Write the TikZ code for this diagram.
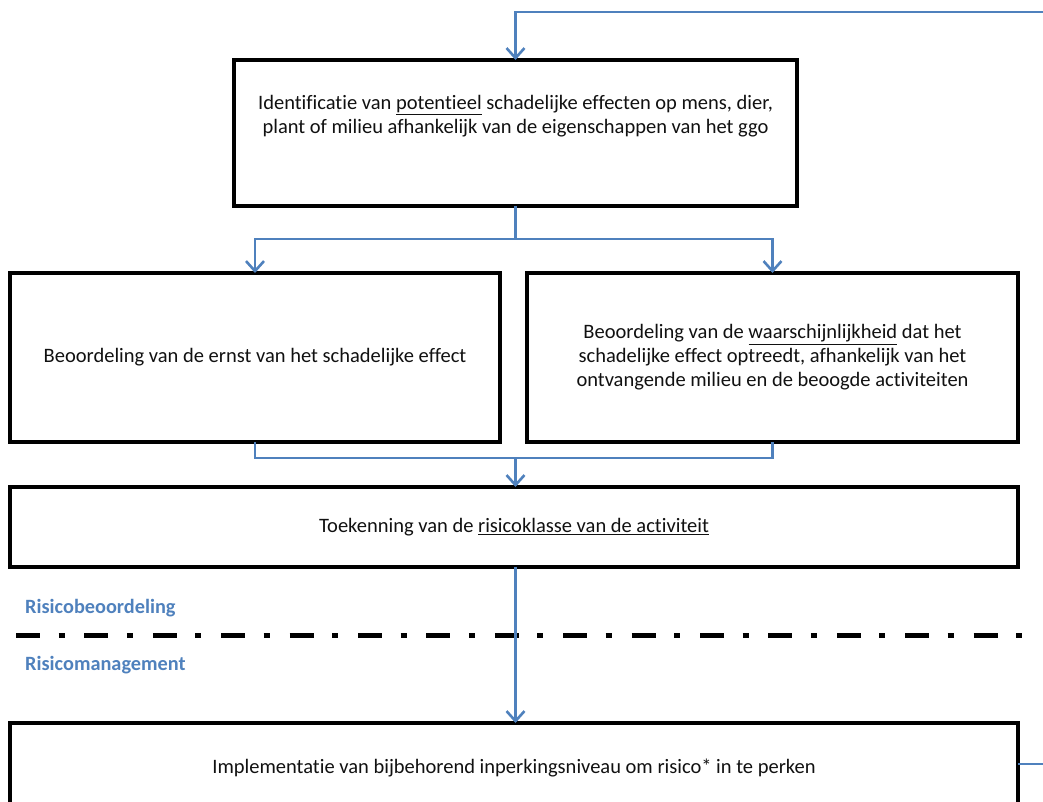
\documentclass[tikz,border=0pt]{standalone}
\usepackage{fontspec}
\setmainfont{Carlito}[Ligatures=NoCommon]
\usetikzlibrary{arrows.meta}
\definecolor{ablue}{HTML}{4F81BD}
\definecolor{ink}{HTML}{111111}
\begin{document}
\begin{tikzpicture}[x=1pt,y=-1pt,
  box/.style={draw=black, line width=4pt, inner sep=0pt, outer sep=0pt, fill=white},
  txt/.style={font=\fontsize{20.5}{24}\selectfont, align=center, inner sep=0pt, text=ink},
  flow/.style={draw=ablue, line width=2.6pt, line join=miter},
  tip/.style={-{Straight Barb[length=10pt,width=18pt]}},
  lab/.style={font=\fontsize{20.3}{24}\selectfont\bfseries, text=ablue, anchor=west, inner sep=0pt},
  sep/.style={draw=black, line width=5pt, dash pattern=on 24pt off 18.5pt on 6pt off 19.9pt}
]
\useasboundingbox (0,0) rectangle (1043,801);
\clip (0,0) rectangle (1043,801);

% boxes
\node[box, minimum width=563pt, minimum height=146pt] (ident) at (515.5,133) {};
\node[txt] (identtxt) at (515.5,116) {Identificatie van \underline{potentieel} schadelijke effecten op mens, dier,\\plant of milieu afhankelijk van de eigenschappen van het ggo};

\node[box, minimum width=490pt, minimum height=169pt, txt] (ernst) at (255,357.5) {Beoordeling van de ernst van het schadelijke effect};
\node[box, minimum width=491pt, minimum height=169pt, txt] (kans) at (772.5,357.5) {Beoordeling van de \underline{waarschijnlijkheid} dat het\\schadelijke effect optreedt, afhankelijk van het\\ontvangende milieu en de beoogde activiteiten};

\node[box, minimum width=1008pt, minimum height=80pt, txt] (toek) at (514,527) {Toekenning van de \underline{risicoklasse van de activiteit}};

\node[box, minimum width=1008pt, minimum height=90pt, txt] (impl) at (514,768) {Implementatie van bijbehorend inperkingsniveau om risico* in te perken};

% labels and separator
\node[lab] (beo) at (25,608) {Risicobeoordeling};
\node[lab] (man) at (25,665) {Risicomanagement};
\coordinate (sepL) at (16,635);
\coordinate (sepR) at (1022,635);
\draw[sep] (sepL) -- (sepR);

% connectors
\coordinate (fbin) at (1045,12);
\coordinate (fbout) at (1045,764);
\coordinate (split) at (515.5,239);
\coordinate (join) at (515.5,458);

\draw[flow, tip] (fbin) -- (fbin -| ident.north) -- (ident.north);
\draw[flow] (ident.south) -- (split);
\draw[flow, tip] (split) -- (split -| ernst.north) -- (ernst.north);
\draw[flow, tip] (split) -- (split -| kans.north) -- (kans.north);
\draw[flow] (ernst.south) -- (join -| ernst.south) -- (join -| kans.south) -- (kans.south);
\draw[flow, tip] (join) -- (join |- toek.north);
\draw[flow, tip] (toek.south -| ident.south) -- (impl.north -| ident.south);
\draw[flow] (impl.east |- fbout) -- (fbout);
\end{tikzpicture}
\end{document}
